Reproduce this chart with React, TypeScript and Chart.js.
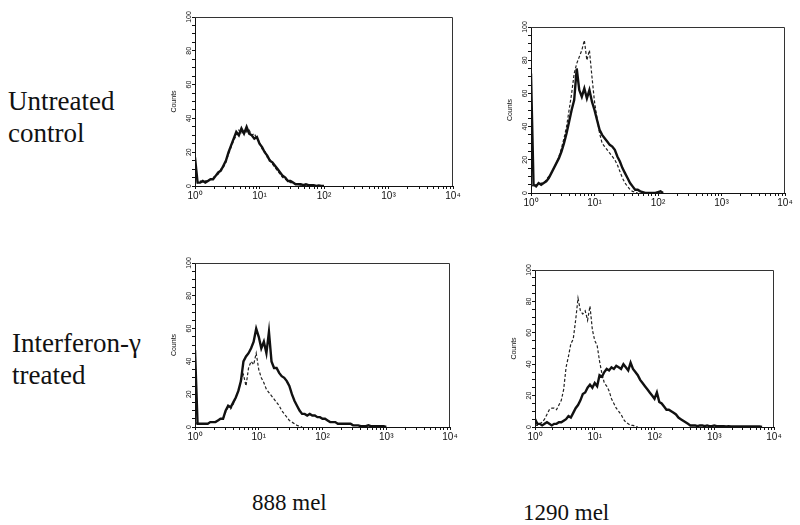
import React, { useEffect, useRef } from "react";
import { Chart, registerables } from "chart.js";

Chart.register(...registerables);
Chart.defaults.font.family = '"Liberation Sans", Arial, sans-serif';

// Fluorescence channel bins: each bin is 0.04 decade wide, starting at 10^0
const BIN = 0.04;
const X_MAJOR = [0, 1, 2, 3, 4];
const X_TICK_LABELS = ["10⁰", "10¹", "10²", "10³", "10⁴"];
const Y_LABELED = [0, 20, 40, 60, 80, 100];
const ROW_LABELS = [["Untreated", "control"], ["Interferon-γ", "treated"]];
const COL_LABELS = ["888 mel", "1290 mel"];
const Y_TITLE = "Counts";

// 888 mel, untreated
const p1Solid = [17, 2, 2, 3, 2, 3, 4, 4, 6, 8, 9, 12, 15, 20, 24, 28, 32, 30, 34, 31, 35, 31, 30, 28, 29, 25, 23, 20, 18, 15, 14, 12, 10, 8, 6, 5, 3, 3, 2, 1, 1, 1, 0.5, 1, 0.5, 0.5, 0.5, 0, 0.3, 0, 0];
const p1Dashed = [15, 2, 3, 2, 3, 3, 4, 5, 6, 7, 10, 11, 14, 19, 23, 27, 30, 33, 31, 33, 32, 33, 30, 31, 28, 26, 22, 21, 17, 16, 13, 11, 9, 7, 5, 4, 3, 2, 2, 1, 1, 0.5, 0.5, 0.5, 0, 0];
// 1290 mel, untreated
const p2Solid = [72, 5, 4, 6, 5, 6, 7, 9, 12, 15, 18, 21, 25, 30, 36, 43, 50, 56, 75, 62, 58, 63, 57, 62, 55, 50, 44, 38, 35, 33, 31, 29, 28, 26, 22, 19, 15, 12, 9, 6, 4, 2, 2, 1, 0.5, 0, 0, 0, 0, 0, 0.5, 1, 0];
const p2Dashed = [5, 4, 5, 5, 6, 6, 8, 10, 12, 15, 18, 22, 27, 33, 40, 50, 60, 72, 78, 82, 86, 92, 80, 86, 70, 55, 45, 36, 30, 28, 26, 24, 22, 20, 17, 13, 9, 6, 4, 2, 1, 0.5, 0];
// 888 mel, interferon-gamma treated
const p3Solid = [47, 2, 2, 2, 2, 2, 3, 3, 3, 4, 5, 5, 10, 13, 12, 15, 18, 22, 28, 40, 43, 45, 48, 52, 60, 55, 48, 52, 45, 58, 40, 36, 36, 33, 31, 30, 28, 25, 20, 16, 13, 10, 8, 8, 7, 8, 7, 7, 6, 6, 5, 5, 4, 3, 3, 3, 2, 2, 2, 2, 2, 2, 1, 1, 1, 0.5, 0.5, 0.5, 1, 0.5, 0.5, 0.5, 0.5, 0.5, 0.5, 0];
const p3Dashed = [3, 2, 2, 2, 2, 2, 3, 3, 3, 4, 5, 5, 9, 12, 11, 14, 18, 22, 28, 32, 25, 36, 40, 38, 45, 35, 30, 27, 23, 21, 19, 17, 15, 13, 10, 8, 6, 4, 3, 2, 1, 0.5, 0];
// 1290 mel, interferon-gamma treated
const p4Solid = [5, 2, 2, 1, 2, 3, 2, 1, 2, 2, 3, 3, 4, 5, 7, 6, 9, 12, 14, 17, 21, 22, 25, 27, 25, 28, 26, 33, 32, 35, 37, 36, 38, 37, 39, 38, 37, 40, 38, 36, 41, 37, 35, 33, 30, 28, 26, 24, 22, 20, 18, 22, 16, 15, 13, 11, 11, 10, 9, 8, 6, 5, 4, 3, 2, 1, 1, 1, 0.5, 1, 1, 0.5, 1, 0.5, 0.5, 1, 0.5, 0.5, 0.5, 0.5, 0.3, 0.5, 0.3, 0.3, 0.3, 0.3, 0.3, 0.3, 0.3, 0.3, 0.3, 0.3, 0.3, 0.3, 0.3, 0];
const p4Dashed = [1, 1, 2, 3, 5, 8, 11, 12, 12, 11, 14, 17, 24, 38, 45, 53, 56, 68, 82, 74, 72, 74, 68, 77, 62, 55, 52, 42, 34, 28, 26, 23, 18, 15, 12, 10, 8, 5, 3, 2, 1, 1, 0.5, 0];

// tick positions (log decades): majors + minor 2..9 ticks
const X_TICKS: number[] = [];
for (let d = 0; d < 4; d++) {
  X_TICKS.push(d);
  for (let m = 2; m <= 9; m++) X_TICKS.push(d + Math.log10(m));
}
X_TICKS.push(4);

const PAD_L = 45, PAD_T = 17, PAD_R = 12, PAD_B = 24;

const framePlugin = {
  id: "frame",
  afterDraw(chart: any) {
    const { ctx, chartArea } = chart;
    const { left, top, right, bottom } = chartArea;
    ctx.save();
    ctx.strokeStyle = "#333";
    ctx.lineWidth = 1;
    ctx.beginPath();
    ctx.moveTo(left, Math.round(top) + 0.5);
    ctx.lineTo(Math.round(right) - 0.5, Math.round(top) + 0.5);
    ctx.lineTo(Math.round(right) - 0.5, bottom);
    ctx.stroke();
    ctx.restore();
  },
};

function Histogram({ box, solid, dashed }: { box: number[]; solid: number[]; dashed: number[] }) {
  const ref = useRef<HTMLCanvasElement>(null);
  const [L, T, R, B] = box;
  const W = R - L + PAD_L + PAD_R;
  const H = B - T + PAD_T + PAD_B;
  useEffect(() => {
    const chart = new Chart(ref.current as HTMLCanvasElement, {
      type: "line",
      data: {
        datasets: [
          {
            data: solid.map((y, i) => ({ x: i * BIN, y })),
            borderColor: "#111",
            borderWidth: 2.4,
            stepped: false,
            tension: 0,
            pointRadius: 0,
            fill: false,
          },
          {
            data: dashed.map((y, i) => ({ x: i * BIN, y })),
            borderColor: "#222",
            borderWidth: 1.2,
            borderDash: [3, 2],
            stepped: false,
            tension: 0,
            pointRadius: 0,
            fill: false,
          },
        ],
      },
      options: {
        animation: false,
        responsive: false,
        events: [],
        layout: { padding: { left: 0, top: PAD_T, right: PAD_R, bottom: 4 } },
        plugins: { legend: { display: false }, tooltip: { enabled: false } },
        scales: {
          x: {
            type: "linear",
            min: 0,
            max: 4,
            afterBuildTicks: (s: any) => {
              s.ticks = X_TICKS.map((v) => ({ value: v }));
            },
            afterFit: (s: any) => {
              s.height = 20;
            },
            grid: { drawOnChartArea: false, drawTicks: true, tickLength: 3, color: "#111" },
            border: { color: "#111" },
            ticks: {
              autoSkip: false,
              maxRotation: 0,
              minRotation: 0,
              padding: 1,
              color: "#111",
              font: { size: 10 },
              callback: (v: any) => {
                const i = X_MAJOR.indexOf(Number(v));
                return i >= 0 ? X_TICK_LABELS[i] : "";
              },
            },
          },
          y: {
            type: "linear",
            min: 0,
            max: 100,
            afterFit: (s: any) => {
              s.width = PAD_L;
            },
            grid: { drawOnChartArea: false, drawTicks: true, tickLength: 3, color: "#111" },
            border: { color: "#111" },
            ticks: {
              stepSize: 5,
              autoSkip: false,
              minRotation: 90,
              maxRotation: 90,
              crossAlign: "center",
              padding: -3,
              color: "#111",
              font: { size: 7 },
              callback: (v: any) => (Y_LABELED.includes(Number(v)) ? String(v) : ""),
            },
            title: {
              display: true,
              text: Y_TITLE,
              color: "#111",
              font: { size: 7 },
              padding: { top: 20, bottom: 0 },
            },
          },
        },
      },
      plugins: [framePlugin],
    } as any);
    return () => chart.destroy();
  }, []);
  return (
    <canvas
      ref={ref}
      width={W}
      height={H}
      style={{ position: "absolute", left: L - PAD_L, top: T - PAD_T, width: W, height: H }}
    />
  );
}

const labelStyle: React.CSSProperties = {
  position: "absolute",
  whiteSpace: "nowrap",
  fontFamily: '"Liberation Serif", "Times New Roman", serif',
  color: "#111",
};

export default function App() {
  return (
    <div
      style={{
        position: "fixed",
        left: 0,
        top: 0,
        width: 800,
        height: 525,
        background: "#fff",
        overflow: "hidden",
      }}
    >
      <Histogram box={[195, 17, 453, 186]} solid={p1Solid} dashed={p1Dashed} />
      <Histogram box={[531, 27, 785, 193]} solid={p2Solid} dashed={p2Dashed} />
      <Histogram box={[195, 263, 450, 427]} solid={p3Solid} dashed={p3Dashed} />
      <Histogram box={[535, 270, 774, 427]} solid={p4Solid} dashed={p4Dashed} />
      <div style={{ ...labelStyle, left: 8, top: 85, fontSize: 27, lineHeight: "32px" }}>
        {ROW_LABELS[0][0]}
        <br />
        {ROW_LABELS[0][1]}
      </div>
      <div style={{ ...labelStyle, left: 12, top: 327, fontSize: 27, lineHeight: "32px" }}>
        {ROW_LABELS[1][0]}
        <br />
        {ROW_LABELS[1][1]}
      </div>
      <div style={{ ...labelStyle, left: 252, top: 491, fontSize: 23, lineHeight: "23px" }}>{COL_LABELS[0]}</div>
      <div style={{ ...labelStyle, left: 523, top: 501, fontSize: 23, lineHeight: "23px" }}>{COL_LABELS[1]}</div>
    </div>
  );
}
